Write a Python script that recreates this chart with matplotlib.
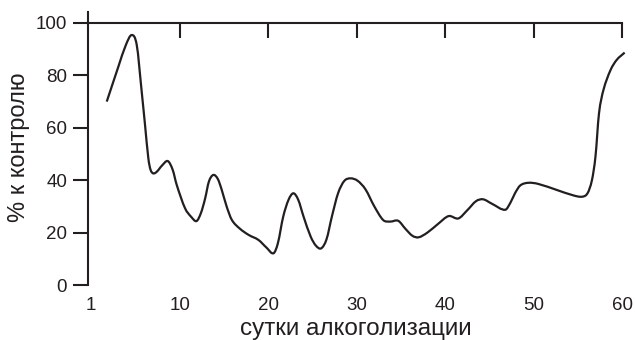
import matplotlib
matplotlib.use("Agg")
import matplotlib.pyplot as plt
from matplotlib.path import Path
from matplotlib.patches import PathPatch

# Values (day, % of control)
days = [1.75, 3.06, 3.9, 4.57, 5.14, 5.7, 6.08, 6.45, 6.7,
        7.0, 7.4, 8.0, 8.65, 9.2, 9.66, 10.6, 11.3, 11.9, 12.4, 12.87, 13.3,
        13.8, 14.3, 14.75, 15.3, 15.9, 16.8, 17.8, 18.9, 19.8, 20.6, 21.1,
        21.7, 22.3, 22.85, 23.4, 24.0, 24.8, 25.4, 26.0, 26.6, 27.2, 27.9,
        28.6, 29.3, 30.1, 31.0, 32.0, 33.0, 33.8, 34.7, 35.5, 36.3, 37.0,
        38.0, 39.2, 40.4, 41.5, 42.5, 43.5, 44.3, 45.3, 46.8, 47.4, 47.9,
        48.5, 49.4, 50.5, 52.6, 54.5, 55.5, 56.1, 56.6, 57.0, 57.4, 57.9,
        58.7, 59.4, 60.3]
percent = [70, 83.3, 91.5, 95.4, 91.6, 73.8, 61, 48.4, 44,
           42.6, 43.2, 45.6, 47.3, 44, 38.2, 29.3, 26, 24.4, 27.5, 33, 39.5,
           42, 40.5, 36.3, 30, 24.8, 21.5, 19.1, 17.2, 14.3, 12.1, 16,
           26.1, 32.5, 35, 32.5, 26.1, 18.5, 15, 14, 17.5, 26.1, 35,
           39.7, 40.7, 39.8, 36.5, 30, 24.8, 24.2, 24.5, 21.5, 18.8, 18.2,
           20, 23.3, 26.3, 25.4, 28.5, 32, 32.7, 31, 28.7, 31.5, 35,
           38, 39, 38.6, 36.3, 34.2, 33.7, 35, 40, 49, 65.5, 74.4,
           82, 85.9, 88.7]

x_ticks = [0, 10, 20, 30, 40, 50, 60]
x_labels = ["1", "10", "20", "30", "40", "50", "60"]
top_ticks = [10, 20, 30, 40, 50, 60]
y_ticks = [0, 20, 40, 60, 80, 100]

ink = "#231f20"
plt.rcParams["font.family"] = ["Liberation Sans", "DejaVu Sans"]


def smooth_path(xs, ys):
    # cubic bezier through every read point, tangents from neighbours
    n = len(xs)
    slopes = []
    for i in range(n):
        a = max(i - 1, 0)
        b = min(i + 1, n - 1)
        slopes.append((ys[b] - ys[a]) / (xs[b] - xs[a]))
    verts = [(xs[0], ys[0])]
    codes = [Path.MOVETO]
    for i in range(n - 1):
        h = (xs[i + 1] - xs[i]) / 3
        verts += [(xs[i] + h, ys[i] + slopes[i] * h),
                  (xs[i + 1] - h, ys[i + 1] - slopes[i + 1] * h),
                  (xs[i + 1], ys[i + 1])]
        codes += [Path.CURVE4] * 3
    return Path(verts, codes)


fig = plt.figure(figsize=(6.35, 3.4), dpi=100)
ax = fig.add_axes([88 / 635, 1 - 285 / 340, 534 / 635, 273.3 / 340])

curve = PathPatch(smooth_path(days, percent), facecolor="none", edgecolor=ink,
                  linewidth=1.6, joinstyle="round", capstyle="butt", clip_on=False)
ax.add_patch(curve)

ax.set_xlim(-0.37, 60.0)
ax.set_ylim(0, 104.3)

for side in ["top", "right", "bottom"]:
    ax.spines[side].set_visible(False)
ax.spines["left"].set_color(ink)
ax.spines["left"].set_linewidth(1.5)

ax.set_yticks(y_ticks)
ax.tick_params(axis="y", direction="out", length=11, width=1.5, color=ink,
               labelsize=13.5, labelcolor=ink, pad=4)
ax.set_xticks(x_ticks)
ax.set_xticklabels(x_labels)
ax.tick_params(axis="x", length=0, labelsize=13.5, labelcolor=ink, pad=9)

# top line at 100 with downward ticks
top = ax.secondary_xaxis(100 / 104.3)
top.set_xticks(top_ticks)
top.set_xticklabels([])
top.tick_params(direction="in", length=11, width=1.5, color=ink)
top.spines["top"].set_color(ink)
top.spines["top"].set_linewidth(1.5)

fig.text(356 / 635, 5 / 340, "сутки алкоголизации", ha="center",
         va="baseline", fontsize=17.5, color=ink)
fig.text(19 / 635, 1 - 147 / 340, "% к контролю", ha="center", va="center",
         rotation=90, fontsize=17, color=ink)

fig.savefig("out.png", dpi=100)
